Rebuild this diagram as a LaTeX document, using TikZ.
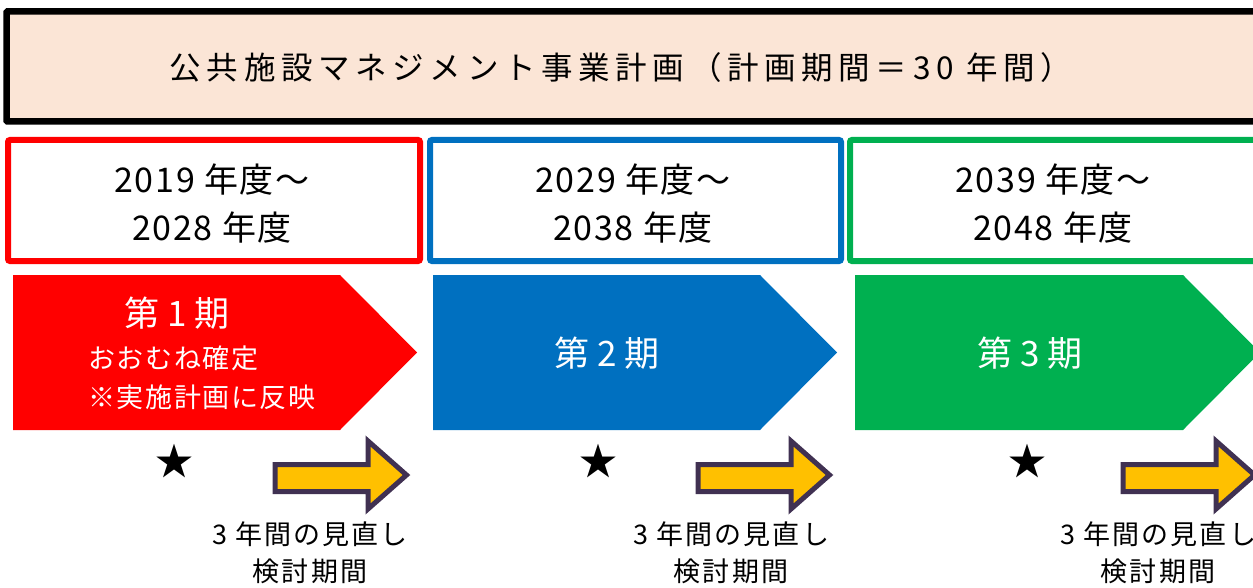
\documentclass[tikz,border=0pt]{standalone}
\usepackage{fontspec}
\newfontfamily\jp{Noto Sans CJK JP}
\newfontfamily\jptitle[LetterSpace=18]{Noto Sans CJK JP}
\newfontfamily\jpyear[LetterSpace=5]{Noto Sans CJK JP}
\newfontfamily\jpsub[LetterSpace=6]{Noto Sans CJK JP}
\newfontfamily\jpnote[LetterSpace=8]{Noto Sans CJK JP}
\definecolor{peach}{HTML}{FBE5D6}
\definecolor{pred}{HTML}{FF0000}
\definecolor{pblue}{HTML}{0070C0}
\definecolor{pgreen}{HTML}{00B050}
\definecolor{ayellow}{HTML}{FFC000}
\definecolor{apurple}{HTML}{403152}
\tikzset{
  titletext/.style={font=\jptitle\fontsize{31.5}{36}\selectfont, inner sep=0pt},
  yeartext/.style={font=\jpyear\fontsize{34}{48}\selectfont, align=center, inner sep=0pt},
  phasetext/.style={font=\jp\fontsize{35}{40}\selectfont, text=white, inner sep=0pt},
  subtext/.style={font=\jpsub\fontsize{27}{32}\selectfont, text=white, inner sep=0pt},
  notetext/.style={font=\jpnote\fontsize{27}{37}\selectfont, align=center, inner sep=0pt},
  startext/.style={font=\jp\fontsize{38}{38}\selectfont, inner sep=0pt},
  yearbox/.style={line width=6pt, rounded corners=2pt, fill=white},
  yarrowstyle/.style={fill=ayellow, draw=apurple, line width=5pt, line join=miter},
}
\begin{document}
\begin{tikzpicture}[x=1pt,y=-1pt]
\useasboundingbox (0,0) rectangle (1253,588);
\begin{scope}
\clip (0,0) rectangle (1253,588);
% title box
\draw[line width=6.5pt, fill=peach, rounded corners=1pt] (6.5,11.5) rectangle (1275,121.5);
\node[titletext] (title) at (621,68) {公共施設マネジメント事業計画（計画期間＝30 年間）};
% year boxes
\draw[yearbox, draw=pred]   (8,140) rectangle (420,261);
\draw[yearbox, draw=pblue]  (430,140) rectangle (841,261);
\draw[yearbox, draw=pgreen] (850,140) rectangle (1275,261);
\node[yeartext] (y1) at (212,204) {2019 年度～\\2028 年度};
\node[yeartext] (y2) at (633,204) {2029 年度～\\2038 年度};
\node[yeartext] (y3) at (1053,204) {2039 年度～\\2048 年度};
% phase pentagons
\fill[pred]   (13,275) -- (340,275) -- (417,352.5) -- (340,430) -- (13,430) -- cycle;
\fill[pblue]  (433,275) -- (760,275) -- (837,352.5) -- (760,430) -- (433,430) -- cycle;
\fill[pgreen] (855,275) -- (1183,275) -- (1260,352.5) -- (1183,430) -- (855,430) -- cycle;
\node[phasetext] (p1) at (177,313) {第 1 期};
\node[subtext, anchor=west] (p1a) at (88,358) {おおむね確定};
\node[subtext, anchor=west] (p1b) at (88,397) {※実施計画に反映};
\node[phasetext] (p2) at (607,353) {第 2 期};
\node[phasetext] (p3) at (1030,353) {第 3 期};
% stars
\node[startext] (s1) at (174,461) {★};
\node[startext] (s2) at (598,461) {★};
\node[startext] (s3) at (1027,461) {★};
% yellow arrows
\foreach \dx in {0,423,848}{
  \draw[yarrowstyle, xshift=\dx pt]
    (275,464.5) -- (368,464.5) -- (368,441) -- (406.5,475) -- (368,509) -- (368,491.5) -- (275,491.5) -- cycle;
}
% notes
\node[notetext] (n1) at (310,553) {3 年間の見直し\\検討期間};
\node[notetext] (n2) at (731,553) {3 年間の見直し\\検討期間};
\node[notetext] (n3) at (1158,553) {3 年間の見直し\\検討期間};
\end{scope}
\end{tikzpicture}
\end{document}
